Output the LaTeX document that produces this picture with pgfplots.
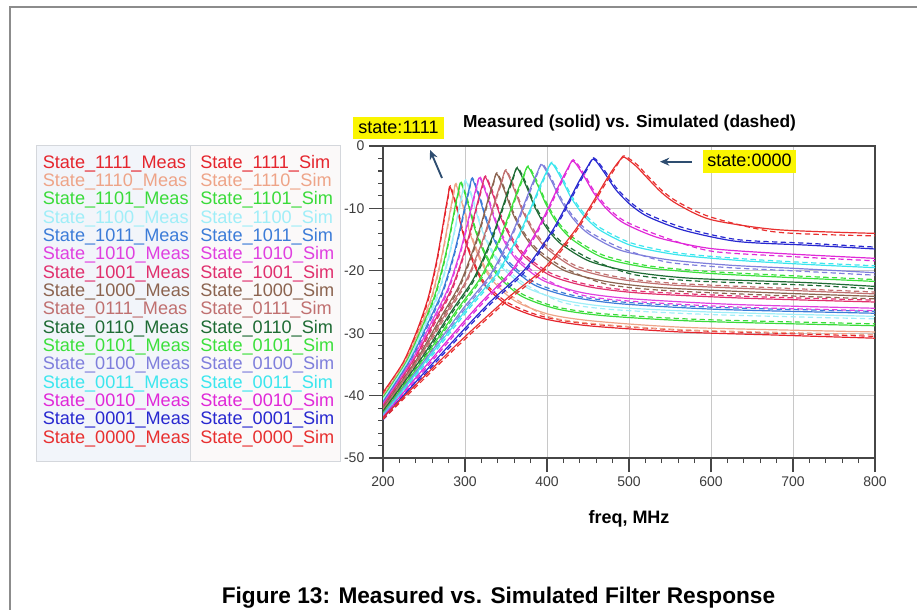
\documentclass[border=0pt]{standalone}
\usepackage{fontspec}
\setmainfont{Liberation Sans}
\usepackage{pgfplots}
\pgfplotsset{compat=1.18}
\usepackage{pgfplotstable}
\usetikzlibrary{arrows.meta}

\definecolor{cA}{RGB}{229,37,45}   % 1111
\definecolor{cB}{RGB}{238,164,136} % 1110
\definecolor{cC}{RGB}{58,219,58}   % 1101
\definecolor{cD}{RGB}{160,238,248} % 1100
\definecolor{cE}{RGB}{60,124,216}  % 1011
\definecolor{cF}{RGB}{224,64,224}  % 1010
\definecolor{cG}{RGB}{224,48,110}  % 1001
\definecolor{cH}{RGB}{140,100,80}  % 1000
\definecolor{cI}{RGB}{192,112,112} % 0111
\definecolor{cJ}{RGB}{30,107,52}   % 0110
\definecolor{cK}{RGB}{60,224,60}   % 0101
\definecolor{cL}{RGB}{127,127,220} % 0100
\definecolor{cM}{RGB}{60,230,238}  % 0011
\definecolor{cN}{RGB}{224,40,216}  % 0010
\definecolor{cO}{RGB}{40,40,208}   % 0001
\definecolor{cP}{RGB}{232,48,48}   % 0000
\definecolor{gridgray}{RGB}{200,200,200}
\definecolor{axisgray}{RGB}{70,70,70}
\definecolor{labgray}{RGB}{60,60,60}
\definecolor{arrowblue}{RGB}{46,77,112}
\definecolor{hl}{RGB}{250,245,0}

\pgfplotstableread{
f m s
200 -39.5 -39.8
224.5 -34.7 -35.1
241.4 -29.6 -30.0
254.9 -24.4 -24.8
265.1 -18.6 -19.0
271.0 -14.3 -14.7
276.1 -10.3 -10.7
279.5 -7.9 -8.2
282 -6.6 -6.4
290.4 -10.2 -9.8
298.8 -14.6 -14.2
310 -18.7 -18.3
324 -22.3 -21.9
352 -25.5 -25.1
394 -27.6 -27.3
450 -28.8 -28.5
562 -29.8 -29.5
680 -30.3 -30.0
800 -30.8 -30.5
}\tA
\pgfplotstableread{
f m s
200 -40.0 -40.3
226.6 -34.7 -35.1
245.0 -29.2 -29.6
259.6 -24.0 -24.4
270.7 -18.2 -18.6
277.1 -13.9 -14.3
282.6 -9.9 -10.3
286.2 -7.5 -7.8
289 -6.2 -6.0
297.6 -9.7 -9.3
306.2 -14.0 -13.6
317.6 -18.0 -17.6
331.9 -21.3 -20.9
360.5 -24.8 -24.4
403.4 -27.0 -27.4
460.6 -28.1 -28.5
575 -29.1 -29.5
800 -29.8 -30.2
}\tB
\pgfplotstableread{
f m s
200 -40.3 -40.6
228.4 -34.6 -35.0
248.0 -28.9 -29.3
263.7 -23.7 -24.1
275.4 -17.9 -18.3
282.3 -13.6 -14.0
288.1 -9.6 -10.0
292.1 -7.2 -7.5
295 -5.9 -5.7
303.8 -9.3 -8.9
312.5 -13.5 -13.1
324.2 -17.4 -17.0
338.8 -20.6 -20.2
368 -24.0 -23.6
411.8 -26.1 -25.8
470.2 -27.2 -26.9
587 -28.1 -27.8
800 -28.8 -28.5
}\tC
\pgfplotstableread{
f m s
200 -40.6 -40.9
230.2 -34.5 -34.9
251.0 -28.6 -29.0
267.7 -23.4 -23.8
280.2 -17.6 -18.0
287.5 -13.3 -13.7
293.7 -9.3 -9.7
297.9 -6.9 -7.2
301 -5.6 -5.4
309.9 -8.9 -8.5
318.8 -12.8 -12.4
330.7 -16.5 -16.1
345.6 -19.5 -19.1
375.3 -22.7 -22.3
419.8 -24.7 -25.1
479.2 -25.8 -26.2
598 -26.6 -27.0
800 -27.3 -27.7
}\tD
\pgfplotstableread{
f m s
200 -41.0 -41.3
232.6 -34.4 -34.8
255.1 -28.3 -28.7
273.0 -23.1 -23.5
286.5 -17.3 -17.7
294.4 -13.0 -13.4
301.1 -9.0 -9.4
305.6 -6.6 -6.9
309 -5.3 -5.1
318.1 -8.5 -8.1
327.2 -12.4 -12.0
339.4 -16.1 -15.7
354.6 -19.1 -18.7
385 -22.3 -21.9
430.6 -24.2 -23.9
491.4 -25.3 -25.0
613 -26.2 -25.9
800 -26.8 -26.5
}\tE
\pgfplotstableread{
f m s
200 -41.3 -41.6
235.3 -34.3 -34.7
259.6 -28.1 -28.5
279.1 -22.9 -23.3
293.7 -17.1 -17.5
302.2 -12.8 -13.2
309.5 -8.8 -9.2
314.4 -6.4 -6.7
318 -5.1 -4.9
327.4 -8.2 -7.8
336.7 -12.0 -11.6
349.2 -15.6 -15.2
364.8 -18.5 -18.1
396 -21.6 -21.2
442.8 -23.5 -23.9
505.2 -24.5 -24.9
630 -25.4 -25.8
800 -26.0 -26.4
}\tF
\pgfplotstableread{
f m s
200 -41.6 -41.9
237.4 -34.3 -34.7
263.2 -28.0 -28.4
283.8 -22.8 -23.2
299.2 -17.0 -17.4
308.2 -12.7 -13.1
316.0 -8.7 -9.1
321.1 -6.3 -6.6
325 -5.0 -4.8
334.6 -8.0 -7.6
344.1 -11.6 -11.2
356.9 -15.0 -14.6
372.9 -17.8 -17.4
404.8 -20.8 -20.4
452.6 -22.6 -22.3
516.4 -23.6 -23.3
644 -24.4 -24.1
800 -25.0 -24.7
}\tG
\pgfplotstableread{
f m s
200 -41.9 -42.2
241.6 -34.1 -34.5
270.2 -27.5 -27.9
293.1 -22.3 -22.7
310.3 -16.5 -16.9
320.4 -12.2 -12.6
329.0 -8.2 -8.6
334.7 -5.8 -6.1
339 -4.5 -4.3
348.9 -7.4 -7.0
358.9 -11.0 -10.6
372.1 -14.3 -13.9
388.7 -17.0 -16.6
421.8 -20.0 -19.6
471.4 -21.7 -22.1
537.6 -22.7 -23.1
670 -23.5 -23.9
800 -24.1 -24.5
}\tH
\pgfplotstableread{
f m s
200 -42.2 -42.5
244.8 -33.8 -34.2
275.8 -27.0 -27.4
300.5 -21.8 -22.2
319.1 -16.0 -16.4
329.9 -11.7 -12.1
339.2 -7.7 -8.1
345.4 -5.3 -5.6
350 -4.0 -3.8
360.2 -7.0 -6.6
370.5 -10.5 -10.1
384.1 -13.9 -13.5
401.2 -16.6 -16.2
435.3 -19.6 -19.2
486.4 -21.3 -21.0
554.6 -22.3 -22.0
691 -23.1 -22.8
800 -23.7 -23.4
}\tI
\pgfplotstableread{
f m s
200 -42.5 -42.8
249.0 -33.6 -34.0
282.9 -26.6 -27.0
309.9 -21.4 -21.8
330.2 -15.6 -16.0
342.0 -11.3 -11.7
352.2 -7.3 -7.7
358.9 -4.9 -5.2
364 -3.6 -3.4
374.6 -6.4 -6.0
385.2 -9.8 -9.4
399.4 -13.1 -12.7
417.1 -15.7 -15.3
452.5 -18.5 -18.1
505.6 -20.2 -20.6
576.4 -21.2 -21.6
718 -21.9 -22.3
800 -22.5 -22.9
}\tJ
\pgfplotstableread{
f m s
200 -42.8 -43.1
252.9 -33.5 -33.9
289.4 -26.4 -26.8
318.6 -21.2 -21.6
340.5 -15.4 -15.8
353.3 -11.1 -11.5
364.2 -7.1 -7.5
371.5 -4.7 -5.0
377 -3.4 -3.2
388 -6.1 -5.7
399 -9.4 -9.0
413.6 -12.6 -12.2
431.9 -15.1 -14.7
468.5 -17.9 -17.5
523.4 -19.5 -19.2
596.6 -20.4 -20.1
700 -21.1 -20.8
800 -21.7 -21.4
}\tK
\pgfplotstableread{
f m s
200 -43.0 -43.3
258 -33.1 -33.5
298 -26.0 -26.4
330 -20.8 -21.2
354 -15.0 -15.4
368 -10.7 -11.1
380 -6.7 -7.1
388 -4.3 -4.6
394 -3.0 -2.8
405.4 -5.6 -5.2
416.9 -8.7 -8.3
432.1 -11.7 -11.3
451.2 -14.1 -13.7
489.3 -16.7 -16.3
546.4 -18.2 -18.6
622.6 -19.1 -19.5
700 -19.6 -20.0
800 -20.3 -20.7
}\tL
\pgfplotstableread{
f m s
200 -43.2 -43.5
261.6 -32.9 -33.3
304.1 -25.8 -26.2
338.0 -20.6 -21.0
363.5 -14.8 -15.2
378.4 -10.5 -10.9
391.1 -6.5 -6.9
399.6 -4.1 -4.4
406 -2.8 -2.6
417.8 -5.3 -4.9
429.5 -8.3 -7.9
445.2 -11.2 -10.8
464.8 -13.5 -13.1
504 -16.0 -15.6
562.8 -17.5 -17.2
641.2 -18.4 -18.1
720 -19.0 -18.7
800 -19.5 -19.2
}\tM
\pgfplotstableread{
f m s
200 -43.4 -43.7
269.3 -32.6 -33.0
317.2 -25.4 -25.8
355.5 -20.2 -20.6
384.2 -14.4 -14.8
400.9 -10.1 -10.5
415.3 -6.1 -6.5
424.8 -3.7 -4.0
432 -2.4 -2.2
444.5 -4.7 -4.3
456.9 -7.5 -7.1
473.5 -10.2 -9.8
494.3 -12.4 -12.0
535.8 -14.7 -14.3
598 -16.4 -16.8
681 -17.2 -17.6
800 -18.0 -18.4
}\tN
\pgfplotstableread{
f m s
200 -43.6 -43.9
276.8 -32.5 -32.9
329.8 -25.1 -25.5
372.2 -19.9 -20.3
404.0 -14.1 -14.5
422.6 -9.8 -10.2
438.5 -5.8 -6.2
449.1 -3.4 -3.7
457 -2.1 -1.9
470.1 -4.3 -3.9
483.3 -6.9 -6.5
500.8 -9.3 -8.9
522.7 -11.3 -10.9
566.5 -13.5 -13.1
632.2 -15.3 -15.0
719.8 -15.9 -15.6
800 -16.5 -16.2
}\tO
\pgfplotstableread{
f m s
200 -43.5 -43.8
287.6 -32.1 -32.5
348.0 -24.8 -25.2
396.3 -19.6 -20.0
432.6 -13.8 -14.2
453.7 -9.5 -9.9
471.9 -5.5 -5.9
483.9 -3.1 -3.4
493 -1.8 -1.6
501 -2.4 -2.1
510 -3.4 -3.0
520 -4.8 -4.4
540 -7.5 -7.1
560 -9.4 -9.0
600 -11.8 -11.4
680 -13.4 -13.8
800 -14.0 -14.4
}\tP

\pgfplotsset{
  meas/.style={solid, line width=0.9pt, smooth, tension=0.45},
  sim/.style={dash pattern=on 4pt off 2.5pt, line width=0.9pt, smooth, tension=0.45},
}
\newcommand{\pair}[2]{%
  \addplot[#1, meas] table[x=f, y=m] {#2};
  \addplot[#1, sim] table[x=f, y=s] {#2};
}
\newcommand{\legfont}{\fontsize{13.6}{15}\selectfont}

\begin{document}
\begin{tikzpicture}
\begin{scope}[x=0.75pt, y=-0.75pt]
  \useasboundingbox (0,0) rectangle (917,610);
  \draw[color={rgb,255:red,140;green,140;blue,140}, line width=1.5pt] (10,612) -- (10,7) -- (919,7);
  % legend box
  \fill[color={rgb,255:red,242;green,245;blue,250}] (36,145) rectangle (190,461);
  \fill[color={rgb,255:red,251;green,249;blue,249}] (190,145) rectangle (340,461);
  \draw[color={rgb,255:red,212;green,215;blue,220}, line width=0.75pt] (36,145) rectangle (340,461);
  \draw[color={rgb,255:red,212;green,215;blue,220}, line width=0.75pt] (190,145) -- (190,461);
  \foreach \c/\code [count=\i from 0] in {cA/1111,cB/1110,cC/1101,cD/1100,cE/1011,cF/1010,cG/1001,cH/1000,cI/0111,cJ/0110,cK/0101,cL/0100,cM/0011,cN/0010,cO/0001,cP/0000}{
    \node[anchor=base west, inner sep=0pt, text=\c, font=\legfont] at (42.5,{168.3+18.33*\i}) {State\_\code\_Meas};
    \node[anchor=base west, inner sep=0pt, text=\c, font=\legfont] at (200,{168.3+18.33*\i}) {State\_\code\_Sim};
  }
  % title, axis label, caption
  \node[anchor=base, inner sep=0pt, font=\bfseries\fontsize{13}{15}\selectfont] at (629.5,127.5) {Measured (solid) vs. Simulated (dashed)};
  \node[anchor=base, inner sep=0pt, font=\bfseries\fontsize{13.5}{15}\selectfont] at (629,523) {freq, MHz};
  \node[anchor=base, inner sep=0pt, font=\bfseries\fontsize{17}{19}\selectfont] at (498.5,603) {Figure 13: Measured vs. Simulated Filter Response};
\end{scope}

\begin{axis}[
  at={(287.25pt,-343.5pt)}, anchor=south west,
  scale only axis, width=369pt, height=234pt,
  xmin=200, xmax=800, ymin=-50, ymax=0,
  xtick={200,300,400,500,600,700,800},
  xticklabels={200,300,400,500,600,700,800},
  ytick={-50,-40,-30,-20,-10,0},
  yticklabels={-50,-40,-30,-20,-10,0},
  minor x tick num=4, minor y tick num=4,
  xtick pos=left, ytick pos=left,
  tick align=outside,
  major tick length=10.5pt, minor tick length=3.75pt,
  grid=major,
  major grid style={line width=0.75pt, color=gridgray},
  axis line style={line width=0.9pt, color=axisgray},
  every tick/.style={line width=0.8pt, color=axisgray},
  ticklabel style={font=\fontsize{10.5}{12}\selectfont, text=labgray},
]
\pair{cA}{\tA}
\pair{cB}{\tB}
\pair{cC}{\tC}
\pair{cD}{\tD}
\pair{cE}{\tE}
\pair{cF}{\tF}
\pair{cG}{\tG}
\pair{cH}{\tH}
\pair{cI}{\tI}
\pair{cJ}{\tJ}
\pair{cK}{\tK}
\pair{cL}{\tL}
\pair{cM}{\tM}
\pair{cN}{\tN}
\pair{cO}{\tO}
\pair{cP}{\tP}
\end{axis}

\begin{scope}[x=0.75pt, y=-0.75pt]
  \fill[hl] (353,117) rectangle (444,138.5);
  \node[anchor=base, inner sep=0pt, font=\fontsize{13.5}{15}\selectfont] at (398.5,133) {state:1111};
  \fill[hl] (703,150) rectangle (796,172.5);
  \node[anchor=base, inner sep=0pt, font=\fontsize{13.5}{15}\selectfont] at (749.5,166.5) {state:0000};
  \draw[arrowblue, line width=1.4pt, -{Stealth[length=7pt,width=6pt]}] (442,178) -- (430,150);
  \draw[arrowblue, line width=1.4pt, -{Stealth[length=7pt,width=6pt]}] (692,161.7) -- (660,161.7);
\end{scope}
\end{tikzpicture}
\end{document}
